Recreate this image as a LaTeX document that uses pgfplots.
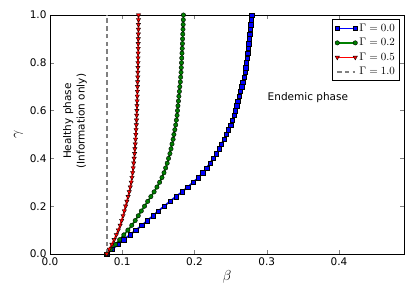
\documentclass[border=0pt]{standalone}
\usepackage{pgfplots}
\pgfplotsset{compat=1.18}
\usepackage{pgfplotstable}
\usepackage{fontspec}
\setmainfont{DejaVu Sans}
\usetikzlibrary{calc}
\newcommand\fs{\fontsize{10.5}{13.5}\selectfont}
\definecolor{mgreen}{rgb}{0,0.5,0}
\definecolor{dgray}{gray}{0.5}
\pgfplotstableread{
gamma blue green red
0.00 0.0785 0.0785 0.0785
0.02 0.0861 0.0844 0.0821
0.04 0.0944 0.0907 0.0857
0.06 0.1022 0.0964 0.0888
0.08 0.1106 0.1022 0.0918
0.10 0.1189 0.1078 0.0946
0.12 0.1272 0.1132 0.0971
0.14 0.1349 0.1179 0.0992
0.16 0.1425 0.1222 0.1011
0.18 0.1500 0.1264 0.1029
0.20 0.1580 0.1308 0.1047
0.22 0.1660 0.1352 0.1064
0.24 0.1743 0.1396 0.1081
0.26 0.1828 0.1441 0.1097
0.28 0.1906 0.1480 0.1111
0.30 0.1982 0.1517 0.1124
0.32 0.2054 0.1550 0.1135
0.34 0.2114 0.1578 0.1144
0.36 0.2167 0.1601 0.1152
0.38 0.2215 0.1622 0.1159
0.40 0.2260 0.1641 0.1165
0.42 0.2304 0.1660 0.1171
0.44 0.2338 0.1675 0.1175
0.46 0.2373 0.1689 0.1180
0.48 0.2408 0.1704 0.1184
0.50 0.2438 0.1715 0.1188
0.52 0.2469 0.1728 0.1191
0.54 0.2500 0.1740 0.1195
0.56 0.2524 0.1749 0.1198
0.58 0.2549 0.1759 0.1200
0.60 0.2565 0.1765 0.1202
0.62 0.2582 0.1771 0.1204
0.64 0.2599 0.1778 0.1206
0.66 0.2617 0.1784 0.1208
0.68 0.2634 0.1791 0.1210
0.70 0.2652 0.1797 0.1211
0.72 0.2670 0.1804 0.1213
0.74 0.2684 0.1809 0.1215
0.76 0.2698 0.1814 0.1216
0.78 0.2707 0.1817 0.1217
0.80 0.2716 0.1820 0.1218
0.82 0.2726 0.1824 0.1219
0.84 0.2734 0.1827 0.1220
0.86 0.2743 0.1830 0.1221
0.88 0.2751 0.1833 0.1221
0.90 0.2758 0.1835 0.1222
0.92 0.2766 0.1838 0.1223
0.94 0.2773 0.1841 0.1224
0.96 0.2779 0.1843 0.1224
0.98 0.2785 0.1845 0.1225
1.00 0.2790 0.1847 0.1225
}\datatab
\begin{document}
\begin{tikzpicture}
\begin{axis}[
  scale only axis, width=354pt, height=239pt,
  xmin=0, xmax=0.49, ymin=0, ymax=1,
  xtick={0,0.1,0.2,0.3,0.4}, ytick={0,0.2,0.4,0.6,0.8,1.0},
  xticklabel style={/pgf/number format/.cd,fixed,fixed zerofill,precision=1},
  yticklabel style={/pgf/number format/.cd,fixed,fixed zerofill,precision=1},
  /pgf/number format/assume math mode=true,
  tick label style={font=\fs},
  tick align=inside, major tick length=4pt,
  xtick pos=both, ytick pos=both,
  axis line style={line width=0.8pt},
  xlabel={$\beta$}, ylabel={$\gamma$},
  label style={font=\fontsize{14}{16}\selectfont},
  xlabel style={yshift=2pt},
  legend style={at={(0.988,0.983)}, anchor=north east, draw=black, line width=0.7pt,
     font=\fontsize{10.5}{12}\selectfont, row sep=1.5pt, inner sep=2.5pt,
     cells={anchor=west}},
  legend image code/.code={\draw plot coordinates {(0pt,0pt) (18pt,0pt)};},
  clip=false,
]
\addplot[blue, line width=1.7pt, mark=square*, mark size=2.2pt,
   mark options={solid, fill=blue, draw=black, line width=0.4pt}]
   table[x=blue, y=gamma] {\datatab};
\addlegendentry{$\Gamma=0.0$}
\addplot[mgreen, line width=1.7pt, mark=*, mark size=2.2pt,
   mark options={solid, fill=mgreen, draw=black, line width=0.4pt}]
   table[x=green, y=gamma] {\datatab};
\addlegendentry{$\Gamma=0.2$}
\addplot[red, line width=1.7pt, mark=triangle*, mark size=2.5pt,
   mark options={solid, fill=red, draw=black, line width=0.4pt, rotate=180}]
   table[x=red, y=gamma] {\datatab};
\addlegendentry{$\Gamma=0.5$}
\addplot[draw=dgray, line width=1.8pt, dash pattern=on 4.5pt off 3.2pt, mark=none]
   coordinates {(0.0784,0) (0.0784,1)};
\addlegendentry{$\Gamma=1.0$}
\node[rotate=90, align=center, font=\fs] at (axis cs:0.0346,0.556)
  {Healthy phase\\(Information only)};
\node[font=\fs] at (axis cs:0.357,0.653) {Endemic phase};
\end{axis}
\pgfresetboundingbox
\path[use as bounding box] ($(current axis.south west)+(-50pt,-45pt)$)
  rectangle ($(current axis.north east)+(11pt,15pt)$);
\end{tikzpicture}
\end{document}
